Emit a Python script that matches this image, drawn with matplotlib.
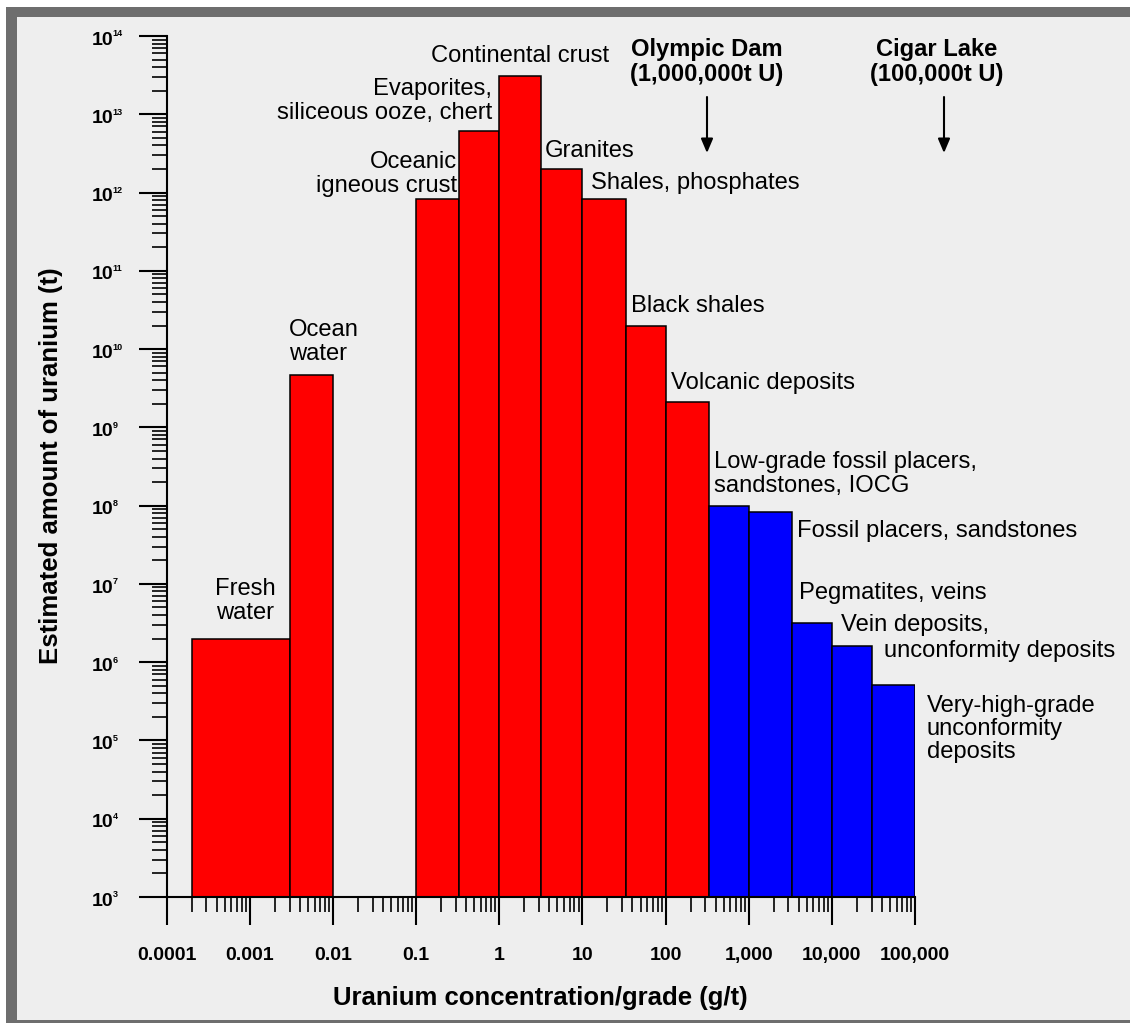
import numpy as np
import matplotlib
matplotlib.use("Agg")
import matplotlib.pyplot as plt
from matplotlib.patches import Rectangle
from matplotlib.ticker import LogLocator, NullFormatter, FixedLocator

plt.rcParams['font.family'] = ['Liberation Sans', 'DejaVu Sans']

# ---- data ----
names = ["Fresh water", "Ocean water", "Oceanic igneous crust",
         "Evaporites, siliceous ooze, chert", "Continental crust", "Granites",
         "Shales, phosphates", "Black shales", "Volcanic deposits",
         "Low-grade fossil placers, sandstones, IOCG", "Fossil placers, sandstones",
         "Pegmatites, veins", "Vein deposits, unconformity deposits",
         "Very-high-grade unconformity deposits"]
grade_lo = [2e-4, 3e-3, 0.1, 0.33, 1.0, 3.2, 10, 33, 100, 330, 1000, 3300, 10000, 30000]
grade_hi = [3e-3, 0.01, 0.33, 1.0, 3.2, 10, 33, 100, 330, 1000, 3300, 10000, 30000, 100000]
amount_t = [2.0e6, 4.6e9, 8.3e11, 6.2e12, 3.1e13, 2.0e12, 8.3e11, 2.0e10, 2.1e9,
            1.0e8, 8.4e7, 3.2e6, 1.6e6, 5.1e5]
bar_colors = ['#ff0000'] * 9 + ['#0000ff'] * 5

xtick_vals = [1e-4, 1e-3, 1e-2, 1e-1, 1, 10, 100, 1e3, 1e4, 1e5]
xtick_labels = ["0.0001", "0.001", "0.01", "0.1", "1", "10", "100",
                "1,000", "10,000", "100,000"]
ytick_exps = list(range(3, 15))

W, H = 1130, 1023
fig = plt.figure(figsize=(W / 100, H / 100), dpi=100)
fig.patch.set_facecolor('white')

def fx(x):
    return x / W

def fy(y):
    return 1 - y / H

# background panel and frame
fig.patches.append(Rectangle((fx(6), 0), 1 - fx(6), fy(7), transform=fig.transFigure,
                             facecolor='#6e6e6e', edgecolor='none', zorder=-10))
fig.patches.append(Rectangle((fx(17), fy(1020)), 1.0, fy(17) - fy(1020),
                             transform=fig.transFigure, facecolor='#eeeeee',
                             edgecolor='none', zorder=-9))

ax = fig.add_axes([fx(166.7), fy(897), fx(915) - fx(166.7), fy(36) - fy(897)])
ax.set_facecolor('none')
ax.set_xscale('log')
ax.set_yscale('log')
ax.set_xlim(1e-4, 1e5)
ax.set_ylim(1e3, 1e14)

widths = np.array(grade_hi) - np.array(grade_lo)
ax.bar(grade_lo, np.array(amount_t) - 1e3, width=widths, bottom=1e3, align='edge',
       color=bar_colors, edgecolor='black', linewidth=1.1, zorder=3)

for s in ['top', 'right']:
    ax.spines[s].set_visible(False)
for s in ['left', 'bottom']:
    ax.spines[s].set_linewidth(1.5)
    ax.spines[s].set_zorder(4)

ax.xaxis.set_major_locator(FixedLocator(xtick_vals))
ax.set_xticklabels(xtick_labels, fontsize=14, fontweight='bold')
ax.xaxis.set_minor_locator(LogLocator(base=10, subs=np.arange(2, 10), numticks=50))
ax.xaxis.set_minor_formatter(NullFormatter())
ax.yaxis.set_major_locator(FixedLocator([10.0 ** e for e in ytick_exps]))
ax.set_yticklabels([''] * len(ytick_exps))
ax.yaxis.set_minor_locator(LogLocator(base=10, subs=np.arange(2, 10), numticks=50))
ax.yaxis.set_minor_formatter(NullFormatter())
ax.tick_params(which='major', direction='out', length=20, width=1.5, color='black')
ax.tick_params(which='minor', direction='out', length=11, width=1.2, color='black')
ax.tick_params(axis='x', which='major', pad=16)

for e in ytick_exps:
    ax.annotate('10', xy=(0, 10.0 ** e), xycoords=('axes fraction', 'data'),
                xytext=(-38.5, -3), textcoords='offset points', ha='right', va='center',
                fontsize=14, fontweight='bold', annotation_clip=False)
    ax.annotate(str(e), xy=(0, 10.0 ** e), xycoords=('axes fraction', 'data'),
                xytext=(-38.8, 1.5), textcoords='offset points', ha='left', va='center',
                fontsize=6.5, fontweight='bold', annotation_clip=False)

fig.text(fx(51), fy(466), 'Estimated amount of uranium (t)', rotation=90,
         ha='center', va='center', fontsize=18.5, fontweight='bold')
fig.text(fx(540), fy(998), 'Uranium concentration/grade (g/t)',
         ha='center', va='center', fontsize=18.5, fontweight='bold')

FS = 17.1
LS = 1.08

def T(x, y, s, ha='left', **kw):
    fig.text(fx(x), fy(y), s, ha=ha, va='center', fontsize=kw.pop('fontsize', FS),
             linespacing=LS, multialignment=ha if ha != 'center' else 'center', **kw)

T(245, 601, 'Fresh\nwater', ha='center')
T(289, 342, 'Ocean\nwater', ha='left')
T(457, 174, 'Oceanic\nigneous crust', ha='right')
T(492, 101, 'Evaporites,\nsiliceous ooze, chert', ha='right')
T(520, 56, 'Continental crust', ha='center')
T(545, 151, 'Granites')
T(591, 183, 'Shales, phosphates')
T(631, 306, 'Black shales')
T(671, 383, 'Volcanic deposits')
T(714, 474, 'Low-grade fossil placers,\nsandstones, IOCG')
T(797, 531, 'Fossil placers, sandstones')
T(799, 593, 'Pegmatites, veins')
T(841, 625, 'Vein deposits,')
T(884, 651, 'unconformity deposits')
T(927, 729, 'Very-high-grade\nunconformity\ndeposits')

T(707, 62, 'Olympic Dam\n(1,000,000t U)', ha='center', fontweight='bold')
T(937, 62, 'Cigar Lake\n(100,000t U)', ha='center', fontweight='bold')

for xa in [707, 944]:
    fig.patches.append(matplotlib.patches.FancyArrowPatch(
        (fx(xa), fy(97)), (fx(xa), fy(153)), transform=fig.transFigure,
        arrowstyle='-|>,head_length=0.85,head_width=0.36', mutation_scale=10,
        color='black', linewidth=1.5, shrinkA=0, shrinkB=0))

fig.savefig('out.png', dpi=100, facecolor=fig.get_facecolor())
